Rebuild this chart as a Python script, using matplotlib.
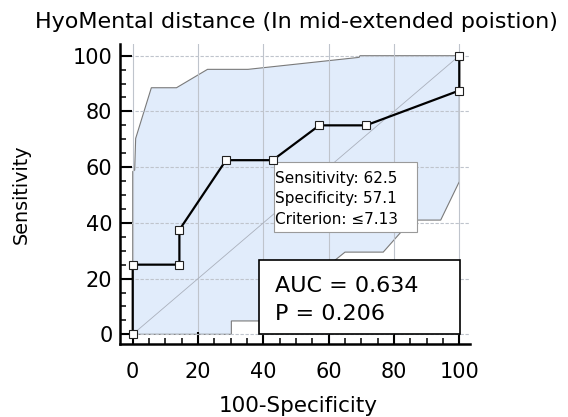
import matplotlib
matplotlib.use("Agg")
import matplotlib.pyplot as plt
from matplotlib.ticker import MultipleLocator
from matplotlib.patches import Rectangle

# ROC curve points (100-Specificity, Sensitivity)
fpr = [0, 0, 14.29, 14.29, 28.57, 42.86, 57.14, 71.43, 100, 100]
tpr = [0, 25, 25, 37.5, 62.5, 62.5, 75, 75, 87.5, 100]

# Confidence band boundaries
upper_x = [0, 0, 0.6, 0.9, 5.7, 13.4, 22.9, 35.3, 69.3, 69.6, 100]
upper_y = [0, 58.4, 59.0, 70.3, 88.5, 88.5, 95.1, 95.1, 99.4, 100, 100]
lower_x = [100, 100, 94.3, 85.4, 76.7, 65.0, 61.4, 55.0, 47.0, 38.9, 30.2, 30.2, 0]
lower_y = [100, 54.8, 41.0, 41.0, 29.5, 29.5, 26.1, 18.0, 10.0, 4.8, 4.8, 0, 0]

title = "HyoMental distance (In mid-extended poistion)"
xlabel = "100-Specificity"
ylabel = "Sensitivity"
crit_lines = ["Sensitivity: 62.5", "Specificity: 57.1", "Criterion: \u22647.13"]
auc_lines = ["AUC = 0.634", "P = 0.206"]

fig = plt.figure(figsize=(5.68, 4.17), dpi=100)
ax = fig.add_axes([0.2113, 0.1743, 0.6162, 0.7202])
ax.set_xlim(-3.89, 103.28)
ax.set_ylim(-3.59, 104.2)

# band
bx = upper_x + lower_x
by = upper_y + lower_y
ax.fill(bx, by, facecolor="#e1ecfb", edgecolor="#7a7a7a", linewidth=0.8, zorder=0.3)

# grid
ax.set_axisbelow(True)
ax.xaxis.grid(True, color="#bfc4cc", linewidth=0.8, linestyle="-")
ax.yaxis.grid(True, color="#bfc4cc", linewidth=0.8, linestyle=(0, (3, 1.5)))

# diagonal
ax.plot([0, 100], [0, 100], color="#aab0bc", linewidth=0.6, zorder=1)

# boxes
ax.add_patch(Rectangle((43.3, 36.7), 87.0 - 43.3, 61.8 - 36.7, facecolor="white",
                       edgecolor="#9a9a9a", linewidth=0.8, zorder=4))
for txt, yb in zip(crit_lines, [54.4, 47.0, 39.6]):
    ax.text(43.7, yb, txt, fontsize=11, va="baseline", ha="left", zorder=4.5)

ax.add_patch(Rectangle((38.8, 0.0), 100.2 - 38.8, 26.7, facecolor="white",
                       edgecolor="black", linewidth=1.2, zorder=4))
for txt, yb in zip(auc_lines, [15.3, 5.1]):
    ax.text(43.6, yb, txt, fontsize=16, va="baseline", ha="left", zorder=4.5)

# ROC
ax.plot(fpr, tpr, color="black", linewidth=1.6, marker="s", markersize=6,
        markerfacecolor="white", markeredgecolor="#202020", markeredgewidth=0.8,
        zorder=5, clip_on=False)

# axes styling
for s in ["top", "right"]:
    ax.spines[s].set_visible(False)
for s in ["left", "bottom"]:
    ax.spines[s].set_linewidth(1.8)
ax.xaxis.set_major_locator(MultipleLocator(20))
ax.xaxis.set_minor_locator(MultipleLocator(5))
ax.yaxis.set_major_locator(MultipleLocator(20))
ax.yaxis.set_minor_locator(MultipleLocator(5))
ax.tick_params(which="major", direction="in", length=8.6, width=1.5, labelsize=15)
ax.tick_params(which="minor", direction="in", length=4.3, width=1.1)
ax.tick_params(axis="x", which="major", pad=12.5)
ax.tick_params(axis="y", which="major", pad=5.5)

ax.set_xlabel(xlabel, fontsize=15.5, va="center")
ax.xaxis.set_label_coords(0.509, -0.205)
ax.set_ylabel(ylabel, fontsize=13.8, va="center")
ax.yaxis.set_label_coords(-0.281, 0.5)

fig.text(296.5 / 568, 1 - 22.5 / 417, title, fontsize=16, ha="center", va="center")

fig.savefig("out.png", dpi=100)
